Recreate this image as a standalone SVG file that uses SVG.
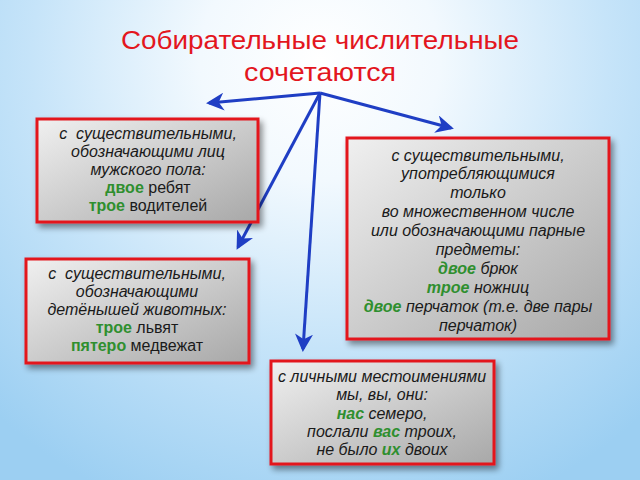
<svg xmlns="http://www.w3.org/2000/svg" width="640" height="480" viewBox="0 0 640 480">
<defs>
<radialGradient id="bg" cx="320" cy="60" r="480" gradientUnits="userSpaceOnUse">
<stop offset="0" stop-color="#ffffff"/>
<stop offset="0.25" stop-color="#f2f9fe"/>
<stop offset="0.6" stop-color="#c6e4f9"/>
<stop offset="1" stop-color="#9ccff2"/>
</radialGradient>
<linearGradient id="box" x1="0" y1="0" x2="1" y2="1">
<stop offset="0" stop-color="#f0f0f0"/>
<stop offset="1" stop-color="#a8a8a8"/>
</linearGradient>
<filter id="sh" x="-10%" y="-10%" width="130%" height="140%">
<feGaussianBlur in="SourceAlpha" stdDeviation="3"/>
<feOffset dx="3" dy="4" result="b"/>
<feComponentTransfer><feFuncA type="linear" slope="0.45"/></feComponentTransfer>
<feMerge><feMergeNode/><feMergeNode in="SourceGraphic"/></feMerge>
</filter>
<marker id="ah" viewBox="0 0 12 12" refX="10" refY="6" markerWidth="6" markerHeight="6" orient="auto" markerUnits="strokeWidth">
<path d="M0,0 L12,6 L0,12 L3.5,6 Z" fill="#1f3ec4"/>
</marker>
</defs>
<style>
.box{fill:url(#box);stroke:#e3161e;stroke-width:3;filter:url(#sh)}
.t{font-family:"Liberation Sans",Arial,sans-serif;font-size:16px;fill:#1a1a1a;text-anchor:middle;white-space:pre}
.i{font-style:italic}
.g{fill:#2f8f2f;font-weight:bold}
.c{stroke:#1f3ec4;stroke-width:3;fill:none;marker-end:url(#ah)}
.title{font-family:"Liberation Sans",Arial,sans-serif;font-size:26px;fill:#e3161e;text-anchor:middle}
</style>
<rect width="640" height="480" fill="url(#bg)"/>
<g id="title">
<text class="title" x="320" y="49" textLength="398" lengthAdjust="spacingAndGlyphs">Собирательные числительные</text>
<text class="title" x="320" y="81" textLength="152" lengthAdjust="spacingAndGlyphs">сочетаются</text>
</g>
<g id="connectors">
<line class="c" x1="320" y1="93" x2="209" y2="103"/>
<line class="c" x1="320" y1="93" x2="451" y2="128"/>
<line class="c" x1="320" y1="93" x2="238" y2="247"/>
<line class="c" x1="320" y1="93" x2="303" y2="349"/>
</g>
<g id="n1">
<rect class="box" x="37" y="119" width="221" height="103"/>
<text class="t i" x="148" y="139">с  существительными,</text>
<text class="t i" x="148" y="157">обозначающими лиц</text>
<text class="t i" x="148" y="175">мужского пола:</text>
<text class="t" x="148" y="193"><tspan class="g">двое</tspan> ребят</text>
<text class="t" x="148" y="211"><tspan class="g">трое</tspan> водителей</text>
</g>
<g id="n2">
<rect class="box" x="347" y="138" width="262" height="201"/>
<text class="t i" x="478" y="161">с существительными,</text>
<text class="t i" x="478" y="179">употребляющимися</text>
<text class="t i" x="478" y="198">только</text>
<text class="t i" x="478" y="217">во множественном числе</text>
<text class="t i" x="478" y="236">или обозначающими парные</text>
<text class="t i" x="478" y="255">предметы:</text>
<text class="t i" x="478" y="274"><tspan class="g">двое</tspan> брюк</text>
<text class="t i" x="478" y="293"><tspan class="g">трое</tspan> ножниц</text>
<text class="t i" x="478" y="312"><tspan class="g">двое</tspan> перчаток (т.е. две пары</text>
<text class="t i" x="478" y="331">перчаток)</text>
</g>
<g id="n3">
<rect class="box" x="26" y="259" width="223" height="104"/>
<text class="t i" x="137" y="279">с  существительными,</text>
<text class="t i" x="137" y="297">обозначающими</text>
<text class="t i" x="137" y="315">детёнышей животных:</text>
<text class="t" x="137" y="333"><tspan class="g">трое</tspan> львят</text>
<text class="t" x="137" y="351"><tspan class="g">пятеро</tspan> медвежат</text>
</g>
<g id="n4">
<rect class="box" x="271" y="361" width="223" height="103"/>
<text class="t i" x="382" y="382">с личными местоимениями</text>
<text class="t i" x="382" y="400">мы, вы, они:</text>
<text class="t i" x="382" y="419"><tspan class="g">нас</tspan> семеро,</text>
<text class="t i" x="382" y="437">послали <tspan class="g">вас</tspan> троих,</text>
<text class="t i" x="382" y="455">не было <tspan class="g">их</tspan> двоих</text>
</g>
</svg>
